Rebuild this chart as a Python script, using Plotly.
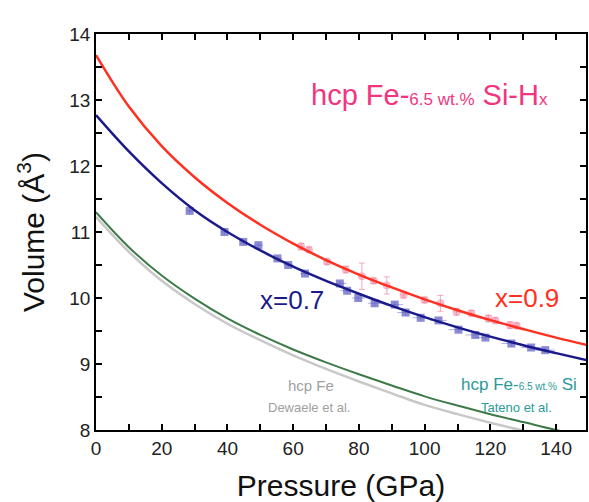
import plotly.graph_objects as go

# Fit curves (pressure in GPa, volume in Å^3)
p_grid = [0, 10, 20, 30, 40, 50, 60, 70, 80, 90, 100, 110, 120, 130, 140, 150]
v_x09 = [13.68, 12.90, 12.30, 11.83, 11.44, 11.11, 10.825, 10.575, 10.355, 10.16, 9.98, 9.815, 9.665, 9.53, 9.40, 9.28]
v_x07 = [12.77, 12.22, 11.74, 11.33, 11.00, 10.72, 10.475, 10.26, 10.065, 9.88, 9.71, 9.555, 9.415, 9.285, 9.165, 9.05]
v_fesi = [11.30, 10.77, 10.34, 9.99, 9.69, 9.44, 9.22, 9.025, 8.845, 8.675, 8.51, 8.37, 8.24, 8.12, 8.00, 7.89]
v_fe = [11.23, 10.70, 10.26, 9.91, 9.61, 9.36, 9.13, 8.925, 8.735, 8.555, 8.38, 8.24, 8.11, 7.99, 7.87, 7.76]

# Measured points, x = 0.7
p_07 = [28.5, 39.1, 44.8, 49.4, 55.2, 58.5, 63.6, 74.2, 76.4, 79.8, 84.8, 90.9, 94.2, 98.8, 104.2, 110.3, 115.4, 118.5, 126.4, 132.4, 136.7]
v_07 = [11.32, 11.00, 10.85, 10.80, 10.60, 10.50, 10.37, 10.22, 10.11, 10.00, 9.92, 9.90, 9.78, 9.70, 9.66, 9.52, 9.44, 9.40, 9.31, 9.25, 9.21]
pe_07 = [1.0, 1.0, 1.0, 1.5, 1.5, 1.5, 1.5, 2.0, 2.0, 2.0, 2.0, 2.5, 2.5, 2.5, 2.5, 3.0, 3.0, 3.0, 3.0, 3.0, 3.0]

# Measured points, x = 0.9
p_09 = [62.4, 64.8, 70.3, 76.0, 80.9, 84.5, 88.5, 93.6, 100.0, 104.8, 109.7, 114.2, 119.4, 121.5, 126.0, 128.0]
v_09 = [10.78, 10.73, 10.55, 10.43, 10.33, 10.26, 10.19, 10.05, 9.97, 9.92, 9.79, 9.77, 9.69, 9.66, 9.59, 9.58]
ve_09 = [0.05, 0.04, 0.04, 0.05, 0.20, 0.04, 0.13, 0.05, 0.04, 0.12, 0.05, 0.04, 0.05, 0.04, 0.05, 0.04]

x_ticks = list(range(0, 151, 10))
x_labels = [str(v) if v % 20 == 0 else "" for v in x_ticks]
y_ticks = [8 + 0.5 * i for i in range(13)]
y_labels = [str(int(v)) if v == int(v) else "" for v in y_ticks]

FONT = "Liberation Sans, Arial, sans-serif"

fig = go.Figure()

fig.add_trace(go.Scatter(
    x=p_07, y=v_07, mode="markers",
    marker=dict(symbol="square", size=8, color="rgba(95,95,195,0.72)"),
    error_x=dict(type="data", array=pe_07, color="rgba(110,110,205,0.55)", thickness=1, width=0),
    error_y=dict(type="data", array=[0.04] * len(v_07), color="rgba(110,110,205,0.55)", thickness=1, width=0),
    showlegend=False))

fig.add_trace(go.Scatter(
    x=p_09, y=v_09, mode="markers",
    marker=dict(symbol="circle", size=8, color="rgba(240,125,155,0.5)"),
    error_y=dict(type="data", array=ve_09, color="rgba(240,125,155,0.65)", thickness=1, width=3),
    error_x=dict(type="data", array=[1.0] * len(p_09), color="rgba(240,125,155,0.45)", thickness=1, width=0),
    showlegend=False))

fig.add_trace(go.Scatter(x=p_grid, y=v_fe, mode="lines", line=dict(color="#c8c8c8", width=2.5, shape="spline"), showlegend=False))
fig.add_trace(go.Scatter(x=p_grid, y=v_fesi, mode="lines", line=dict(color="#3d7a48", width=2, shape="spline"), showlegend=False))
fig.add_trace(go.Scatter(x=p_grid, y=v_x09, mode="lines", line=dict(color="#ff3020", width=2.5, shape="spline"), showlegend=False))
fig.add_trace(go.Scatter(x=p_grid, y=v_x07, mode="lines", line=dict(color="#1a1a8a", width=2.5, shape="spline"), showlegend=False))

W, H = 589, 502
ML, MR, MT, MB = 96, 1, 34, 72
pw, ph = W - ML - MR, H - MT - MB

annots = [
    dict(x=431, y=95, text="hcp Fe-<span style='font-size:17px'>6.5 wt.%</span> Si-H<span style='font-size:17px'>x</span>",
         font=dict(size=29, color="#f2357f")),
    dict(x=293, y=300, text="x=0.7", font=dict(size=26, color="#1a1a8a")),
    dict(x=529, y=298, text="x=0.9", font=dict(size=26, color="#ff3020")),
    dict(x=312, y=385, text="hcp Fe", font=dict(size=15, color="#a0a0a0")),
    dict(x=310, y=407, text="Dewaele et al.", font=dict(size=13, color="#a0a0a0")),
    dict(x=521, y=384, text="hcp Fe-<span style='font-size:10px'>6.5 wt.%</span> Si", font=dict(size=17, color="#2a9a98")),
    dict(x=518, y=407, text="Tateno et al.", font=dict(size=13, color="#2a9a98")),
]
anns = []
for a in annots:
    anns.append(dict(x=(a["x"] - ML) / pw, y=1 - (a["y"] - MT) / ph, xref="paper", yref="paper",
                     text=a["text"], showarrow=False, font=dict(family=FONT, **a["font"]),
                     xanchor="center", yanchor="middle"))

axis_common = dict(showline=True, linecolor="black", linewidth=1.5, mirror="ticks",
                   ticks="inside", ticklen=6, tickwidth=1.5, tickcolor="black",
                   showgrid=False, zeroline=False,
                   tickfont=dict(family=FONT, size=19, color="#222222"))

fig.update_layout(
    width=W, height=H,
    margin=dict(l=ML, r=MR, t=MT, b=MB),
    paper_bgcolor="white", plot_bgcolor="white",
    annotations=anns,
    xaxis=dict(range=[0, 149.1], tickmode="array", tickvals=x_ticks, ticktext=x_labels,
               title=dict(text="Pressure (GPa)", font=dict(family=FONT, size=30, color="#111111"), standoff=18),
               **axis_common),
    yaxis=dict(range=[8, 14], tickmode="array", tickvals=y_ticks, ticktext=y_labels,
               title=dict(text="Volume (Å<sup>3</sup>)", font=dict(family=FONT, size=30, color="#111111"), standoff=16),
               **axis_common),
)

fig.write_html("out.html")
